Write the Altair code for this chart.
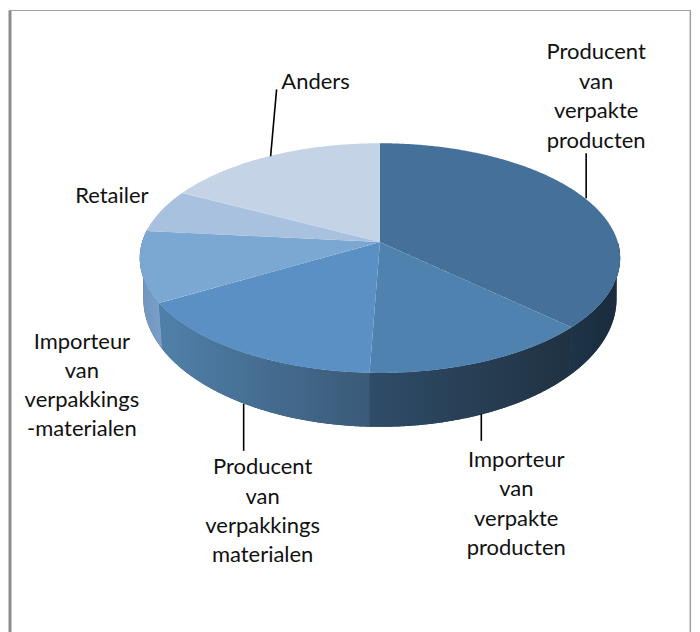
import math
import altair as alt
import pandas as pd

# Chart values
categories = ["Producent van verpakte producten", "Importeur van verpakte producten",
              "Producent van verpakkings materialen", "Importeur van verpakkings-materialen",
              "Retailer", "Anders"]
shares = [37.0, 13.6, 16.0, 10.0, 6.1, 17.3]
top_colors = ["#44709a", "#5082b0", "#5b90c4", "#7ba7d3", "#a8c1de", "#c4d3e6"]
side_stops = [["#1e3448", "#1a2b3c"], ["#2f4c68", "#203242"], ["#5080aa", "#3a5a78"],
              ["#6f95bf", "#7a9fc8"], ["#7a9fc8", "#7a9fc8"], ["#7a9fc8", "#7a9fc8"]]

label_lines = [["Producent", "van", "verpakte", "producten"],
               ["Importeur", "van", "verpakte", "producten"],
               ["Producent", "van", "verpakkings", "materialen"],
               ["Importeur", "van", "verpakkings", "-materialen"],
               ["Retailer"], ["Anders"]]
label_x = [597, 517, 263, 82, 112, 316]
label_y = [[51, 81, 110, 140], [459, 488, 518, 547], [466, 496, 525, 554],
           [341, 370, 399, 428], [195], [81]]
leader_x = [587, 482, 244, 277]
leader_y = [152, 413, 403, 88]
leader_x2 = [587, 482, 244, 271]
leader_y2 = [197, 440, 450, 155]

# Pie geometry (tilted perspective disc)
CX, APEX_Y, A, B, K = 380.5, 241.0, 238.2, 112.8, 0.139


def rim(deg):
    t = math.radians(deg)
    u, v = math.sin(t), math.cos(t)
    w = 1 / (1 + K * v)
    return CX + A * u * w, APEX_Y - B * v * w


def low(p):
    x, y = p
    return CX + 0.985 * (x - CX), y + 46 + 0.114 * (y - 302)


def sections(poly):
    xs = sorted({round(p[0], 2) for p in poly})
    out = []
    n = len(poly)
    for x in xs:
        hits = []
        for i in range(n):
            (x0, y0), (x1, y1) = poly[i], poly[(i + 1) % n]
            lo, hi = min(x0, x1), max(x0, x1)
            if lo - 0.01 <= x <= hi + 0.01:
                if abs(x1 - x0) < 1e-6:
                    hits += [y0, y1]
                else:
                    f = min(1, max(0, (x - x0) / (x1 - x0)))
                    hits.append(y0 + f * (y1 - y0))
        out.append((x, min(hits), max(hits)))
    return out


def arc(d0, d1, step=0.5):
    n = max(2, int(abs(d1 - d0) / step))
    return [rim(d0 + (d1 - d0) * i / n) for i in range(n + 1)]


total = sum(shares)
edges = [0.0]
for s in shares:
    edges.append(edges[-1] + s / total * 360)

xs = alt.X("x:Q", axis=None, scale=alt.Scale(domain=[8, 692]))
ys = alt.Y("y:Q", axis=None, scale=alt.Scale(domain=[632, 8]))

layers = []

# Backing under the side wall so pieces leave no light seams
band = arc(90.0, 277.0)
back = pd.DataFrame(sections(band + [low(p) for p in reversed(band)]), columns=["x", "y", "y2"])
layers.append(alt.Chart(back).mark_area(color="#2f4c68", interpolate="linear")
              .encode(x=xs, y=ys, y2="y2:Q"))

# Side wall, one gradient-filled piece per slice, front half only
for i in range(len(shares)):
    d0, d1 = max(edges[i], 90.0), min(edges[i + 1], 277.0)
    if d1 <= d0:
        continue
    top = arc(d0, d1)
    poly = top + [low(p) for p in reversed(top)]
    df = pd.DataFrame(sections(poly), columns=["x", "y", "y2"])
    stops = side_stops[i]
    grad = alt.Gradient(gradient="linear", x1=0, x2=1, y1=0, y2=0,
                        stops=[alt.GradientStop(color=stops[0], offset=0),
                               alt.GradientStop(color=stops[1], offset=1)])
    layers.append(alt.Chart(df).mark_area(color=grad, interpolate="linear")
                  .encode(x=xs, y=ys, y2="y2:Q"))

# Top face
for i in range(len(shares)):
    poly = [(CX, APEX_Y)] + arc(edges[i], edges[i + 1])
    df = pd.DataFrame(sections(poly), columns=["x", "y", "y2"])
    df["category"] = categories[i]
    layers.append(alt.Chart(df).mark_area(color=top_colors[i], interpolate="linear")
                  .encode(x=xs, y=ys, y2="y2:Q"))

# Leader lines
leaders = pd.DataFrame({"x": leader_x, "y": leader_y, "x2": leader_x2, "y2": leader_y2})
layers.append(alt.Chart(leaders).mark_rule(color="#000000", strokeWidth=1.6)
              .encode(x=xs, y=ys, x2="x2:Q", y2="y2:Q"))

# Labels
rows = []
for lines, lx, lys in zip(label_lines, label_x, label_y):
    for t, ly in zip(lines, lys):
        rows.append({"x": lx, "y": ly, "t": t})
layers.append(alt.Chart(pd.DataFrame(rows))
              .mark_text(font="Lato", fontSize=22, color="#111111", align="center", baseline="middle")
              .encode(x=xs, y=ys, text="t:N"))

# Chart frame
frame = pd.DataFrame({"x": [10, 9, 691.3], "y": [9, 9, 9], "x2": [10, 692, 691.3], "y2": [632, 9, 632],
                      "w": [3, 1, 1.5], "c": ["#8c8c8c", "#a0a0a0", "#a0a0a0"]})
layers.append(alt.Chart(frame).mark_rule()
              .encode(x=xs, y=ys, x2="x2:Q", y2="y2:Q",
                      color=alt.Color("c:N", scale=None),
                      strokeWidth=alt.StrokeWidth("w:Q", scale=None, legend=None)))

chart = (alt.layer(*layers)
         .properties(width=684, height=624, padding=0, background="#ffffff")
         .configure_view(stroke=None))
chart.save("out.html", embed_options={"renderer": "svg", "actions": False})
